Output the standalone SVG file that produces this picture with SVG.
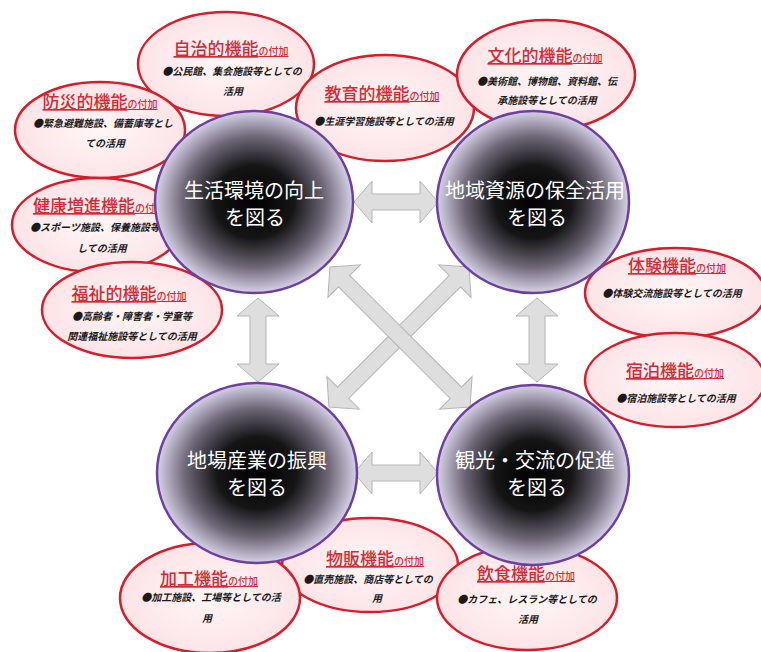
<svg xmlns="http://www.w3.org/2000/svg" width="761" height="652" viewBox="0 0 761 652">
<defs>
<radialGradient id="gc" cx="50%" cy="50%" r="50%">
<stop offset="0" stop-color="#000"/>
<stop offset="0.4" stop-color="#151515"/>
<stop offset="0.72" stop-color="#6e6878"/>
<stop offset="1" stop-color="#d8d2e8"/>
</radialGradient>
<radialGradient id="ge" cx="50%" cy="50%" r="50%">
<stop offset="0" stop-color="#fff6f6"/>
<stop offset="1" stop-color="#fde4e7"/>
</radialGradient>
<polygon id="arrS" points="-42,0 -24,-21 -24,-8 24,-8 24,-21 42,0 24,21 24,8 -24,8 -24,21"/>
<polygon id="arrL" points="-99,0 -79,-23 -79,-8 79,-8 79,-23 99,0 79,23 79,8 -79,8 -79,23"/>
</defs>
<style>
.ell{fill:url(#ge);stroke:#d81c2a;stroke-width:2.5}
.cir{fill:url(#gc);stroke:#6f3fa0;stroke-width:2.5}
.ttl{font-family:"Noto Sans CJK JP",sans-serif;font-size:17px;font-weight:500;fill:#d42a35;text-anchor:middle;text-decoration:underline}
.sm{font-size:10px}
.bd{font-family:"Noto Sans CJK JP",sans-serif;font-size:10px;font-weight:bold;font-style:italic;fill:#1a1a1a;text-anchor:middle}
.ct{font-family:"Noto Sans CJK JP",sans-serif;font-size:20px;fill:#fff;text-anchor:middle}
.arr{fill:#dedede;stroke:#b5b5b5;stroke-width:1}
</style>
<rect width="761" height="652" fill="#fff"/>

<g id="n-jichi">
<ellipse class="ell" cx="226" cy="64" rx="88" ry="52"/>
<text class="ttl" x="231" y="55">自治的機能<tspan class="sm">の付加</tspan></text>
<text class="bd" x="232" y="75">●公民館、集会施設等としての</text>
<text class="bd" x="233" y="95">活用</text>
</g>
<g id="n-bousai">
<ellipse class="ell" cx="100" cy="130" rx="85" ry="48"/>
<text class="ttl" x="100" y="108">防災的機能<tspan class="sm">の付加</tspan></text>
<text class="bd" x="103" y="127">●緊急避難施設、備蓄庫等とし</text>
<text class="bd" x="105" y="147">ての活用</text>
</g>
<g id="n-kenkou">
<ellipse class="ell" cx="97" cy="225" rx="85" ry="47"/>
<text class="ttl" x="99" y="212">健康増進機能<tspan class="sm">の付加</tspan></text>
<text class="bd" x="100" y="231">●スポーツ施設、保養施設等と</text>
<text class="bd" x="102" y="252">しての活用</text>
</g>
<g id="n-fukushi">
<ellipse class="ell" cx="132" cy="310" rx="90" ry="48"/>
<text class="ttl" x="129" y="300">福祉的機能<tspan class="sm">の付加</tspan></text>
<text class="bd" x="132" y="320">●高齢者・障害者・学童等</text>
<text class="bd" x="132" y="340">関連福祉施設等としての活用</text>
</g>
<g id="n-kyouiku">
<ellipse class="ell" cx="385" cy="108" rx="89" ry="53"/>
<text class="ttl" x="382" y="100">教育的機能<tspan class="sm">の付加</tspan></text>
<text class="bd" x="384" y="125">●生涯学習施設等としての活用</text>
</g>
<g id="n-bunka">
<ellipse class="ell" cx="546" cy="75" rx="89" ry="55"/>
<text class="ttl" x="545" y="62">文化的機能<tspan class="sm">の付加</tspan></text>
<text class="bd" x="547" y="85">●美術館、博物館、資料館、伝</text>
<text class="bd" x="547" y="104">承施設等としての活用</text>
</g>
<g id="n-taiken">
<ellipse class="ell" cx="675" cy="293" rx="90" ry="45"/>
<text class="ttl" x="677" y="272">体験機能<tspan class="sm">の付加</tspan></text>
<text class="bd" x="672" y="297">●体験交流施設等としての活用</text>
</g>
<g id="n-shukuhaku">
<ellipse class="ell" cx="675" cy="380" rx="90" ry="47"/>
<text class="ttl" x="675" y="377">宿泊機能<tspan class="sm">の付加</tspan></text>
<text class="bd" x="676" y="402">●宿泊施設等としての活用</text>
</g>
<g id="n-buppan">
<ellipse class="ell" cx="370" cy="565" rx="88" ry="47"/>
<text class="ttl" x="375" y="565">物販機能<tspan class="sm">の付加</tspan></text>
<text class="bd" x="368" y="583">●直売施設、商店等としての</text>
<text class="bd" x="377" y="602">用</text>
</g>
<g id="n-kakou">
<ellipse class="ell" cx="210" cy="598" rx="90" ry="55"/>
<text class="ttl" x="209" y="585">加工機能<tspan class="sm">の付加</tspan></text>
<text class="bd" x="211" y="601">●加工施設、工場等としての活</text>
<text class="bd" x="207" y="622">用</text>
</g>
<g id="n-inshoku">
<ellipse class="ell" cx="527" cy="598" rx="90" ry="52"/>
<text class="ttl" x="526" y="580">飲食機能<tspan class="sm">の付加</tspan></text>
<text class="bd" x="527" y="603">●カフェ、レスラン等としての</text>
<text class="bd" x="528" y="623">活用</text>
</g>

<g id="connectors">
<use href="#arrS" class="arr" transform="translate(396,202)"/>
<use href="#arrS" class="arr" transform="translate(396,473)"/>
<use href="#arrS" class="arr" transform="translate(258,340) rotate(90)"/>
<use href="#arrS" class="arr" transform="translate(537,340) rotate(90)"/>
<use href="#arrL" class="arr" transform="translate(399,337) rotate(-45)"/>
<use href="#arrL" class="arr" transform="translate(400,337) rotate(45)"/>
</g>

<g id="c-seikatsu">
<ellipse class="cir" cx="254" cy="202" rx="99" ry="91"/>
<text class="ct" x="254" y="198">生活環境の向上</text>
<text class="ct" x="255" y="225">を図る</text>
</g>
<g id="c-chiiki">
<ellipse class="cir" cx="533" cy="202" rx="96" ry="91"/>
<text class="ct" x="535" y="198">地域資源の保全活用</text>
<text class="ct" x="537" y="225">を図る</text>
</g>
<g id="c-jiba">
<ellipse class="cir" cx="257" cy="473" rx="100" ry="90"/>
<text class="ct" x="257" y="468">地場産業の振興</text>
<text class="ct" x="257" y="495">を図る</text>
</g>
<g id="c-kankou">
<ellipse class="cir" cx="533" cy="475" rx="96" ry="90"/>
<text class="ct" x="535" y="468">観光・交流の促進</text>
<text class="ct" x="537" y="495">を図る</text>
</g>
</svg>
